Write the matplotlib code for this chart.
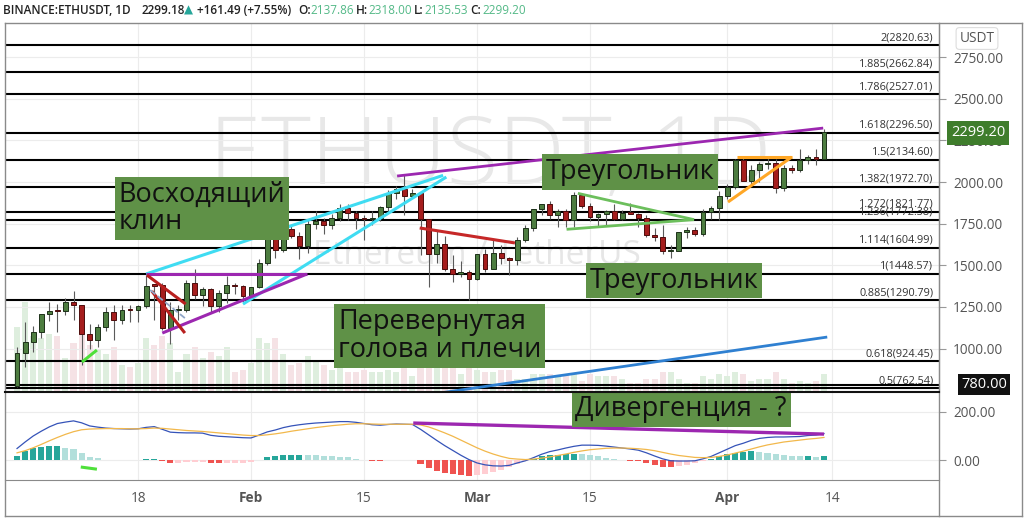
import matplotlib

matplotlib.use("Agg")
import matplotlib.pyplot as plt
import matplotlib.transforms as mtransforms
from matplotlib.lines import Line2D
import numpy as np

plt.rcParams["font.family"] = ["Open Sans", "DejaVu Sans"]

# ---- daily candles, ETHUSDT, Jan 3 .. Apr 13 (index 0..100) ----
opens = [774, 975, 1041, 1100, 1208, 1225, 1224, 1281, 1262, 1088,
         1049, 1130, 1219, 1171, 1233, 1230, 1257, 1385, 1382, 1121,
         1233, 1234, 1392, 1324, 1357, 1253, 1332, 1382, 1376, 1314,
         1369, 1515, 1660, 1594, 1719, 1678, 1613, 1748, 1767, 1744,
         1784, 1843, 1813, 1781, 1779, 1781, 1849, 1937, 1959, 1919,
         1935, 1777, 1570, 1626, 1475, 1446, 1459, 1416, 1565, 1475,
         1575, 1541, 1532, 1654, 1724, 1835, 1869, 1799, 1827, 1770,
         1924, 1854, 1791, 1806, 1823, 1780, 1812, 1810, 1782, 1681,
         1669, 1583, 1587, 1701, 1713, 1689, 1817, 1846, 1919, 1969,
         2134, 2008, 2075, 2107, 2113, 1964, 2083, 2072, 2135, 2152, 2138]
highs = [1011, 1162, 1134, 1210, 1282, 1265, 1301, 1347, 1263, 1150,
         1148, 1247, 1260, 1260, 1264, 1260, 1440, 1390, 1395, 1278,
         1260, 1410, 1477, 1372, 1362, 1350, 1433, 1396, 1380, 1372,
         1540, 1673, 1696, 1734, 1738, 1697, 1772, 1823, 1786, 1807,
         1870, 1871, 1826, 1799, 1827, 1859, 1950, 1974, 2041, 1960,
         1937, 1777, 1710, 1673, 1559, 1525, 1469, 1567, 1595, 1650,
         1623, 1548, 1671, 1740, 1838, 1870, 1885, 1840, 1840, 1943,
         1934, 1875, 1812, 1832, 1869, 1830, 1875, 1813, 1800, 1725,
         1740, 1624, 1702, 1732, 1728, 1838, 1857, 1945, 1990, 2141,
         2145, 2100, 2120, 2150, 2137, 2100, 2100, 2200, 2160, 2200, 2318]
lows = [768, 890, 977, 1064, 1168, 1101, 1201, 1172, 900, 1000,
        1008, 1103, 1050, 1150, 1160, 1161, 1243, 1170, 1110, 1030,
        1172, 1220, 1300, 1255, 1217, 1220, 1271, 1330, 1280, 1296,
        1361, 1500, 1543, 1582, 1666, 1535, 1571, 1718, 1690, 1716,
        1765, 1774, 1720, 1652, 1740, 1765, 1825, 1897, 1800, 1911,
        1560, 1371, 1511, 1465, 1400, 1431, 1293, 1409, 1460, 1475,
        1509, 1440, 1502, 1640, 1706, 1800, 1780, 1727, 1732, 1730,
        1843, 1764, 1732, 1738, 1774, 1770, 1805, 1727, 1670, 1648,
        1570, 1546, 1584, 1666, 1673, 1678, 1779, 1774, 1900, 1957,
        2010, 1990, 2000, 2080, 1932, 1949, 2055, 2060, 2111, 2100, 2136]
closes = [975, 1041, 1100, 1208, 1225, 1224, 1281, 1262, 1088, 1049,
          1130, 1219, 1171, 1233, 1230, 1257, 1377, 1377, 1121, 1233,
          1234, 1392, 1324, 1357, 1253, 1332, 1382, 1376, 1314, 1369,
          1515, 1660, 1594, 1719, 1678, 1613, 1748, 1767, 1744, 1784,
          1843, 1813, 1781, 1779, 1781, 1849, 1937, 1959, 1919, 1935,
          1777, 1570, 1626, 1475, 1446, 1459, 1416, 1565, 1475, 1575,
          1541, 1532, 1654, 1724, 1835, 1869, 1799, 1827, 1770, 1924,
          1854, 1791, 1806, 1823, 1780, 1812, 1810, 1782, 1681, 1669,
          1583, 1587, 1701, 1713, 1689, 1817, 1846, 1919, 1969, 2134,
          2008, 2075, 2107, 2113, 1964, 2083, 2072, 2135, 2152, 2138, 2299]
volumes = [2.9, 4.0, 2.5, 2.4, 2.6, 2.5, 1.5, 2.2, 3.5, 2.1,
           1.9, 1.7, 2.0, 1.2, 1.1, 1.3, 2.4, 2.1, 2.5, 2.2,
           0.9, 1.7, 2.0, 1.5, 1.8, 1.6, 2.0, 0.9, 1.0, 1.3,
           2.4, 2.2, 2.4, 1.7, 1.2, 1.3, 1.6, 1.4, 1.2, 1.0,
           1.2, 0.9, 0.9, 1.0, 0.9, 0.9, 1.0, 0.9, 1.3, 0.7,
           2.2, 2.7, 1.6, 1.2, 1.3, 0.8, 1.1, 1.0, 0.9, 0.9,
           1.0, 1.0, 0.6, 0.6, 0.8, 0.8, 0.8, 0.7, 0.8, 0.8,
           0.5, 0.8, 0.7, 0.7, 0.7, 0.6, 0.4, 0.4, 0.6, 0.6,
           0.9, 0.9, 0.6, 0.4, 0.4, 0.7, 0.6, 0.8, 0.7, 0.9,
           0.8, 0.5, 0.6, 0.6, 0.9, 0.6, 0.4, 0.5, 0.4, 0.5, 0.8]

# ---- MACD panel ----
macd = [48, 75, 100, 120, 138, 152, 158, 163, 155, 142,
        137, 133, 131, 130, 129, 130, 136, 139, 128, 116,
        114, 113, 113, 112, 103, 99, 97, 95, 93, 92,
        104, 117, 125, 135, 142, 147, 151, 154, 156, 158,
        160, 160, 157, 152, 147, 145, 148, 150, 149, 148,
        128, 105, 82, 60, 40, 20, 2, -12, -20, -24,
        -25, -22, -12, -3, 10, 24, 35, 42, 50, 57,
        62, 62, 61, 58, 54, 50, 46, 41, 30, 17,
        5, -3, -4, -4, -3, 5, 15, 30, 45, 60,
        70, 82, 90, 94, 96, 96, 97, 98, 102, 104, 110]
signal = [30, 39, 51, 65, 80, 94, 107, 118, 126, 129,
          130, 131, 131, 131, 130, 130, 131, 133, 132, 129,
          126, 123, 121, 119, 116, 113, 110, 107, 104, 102,
          102, 105, 109, 114, 120, 125, 130, 135, 139, 143,
          146, 149, 151, 151, 150, 149, 149, 149, 149, 149,
          146, 138, 126, 113, 99, 83, 67, 51, 37, 25,
          15, 7, 4, 2, 4, 8, 13, 19, 25, 32,
          38, 43, 46, 49, 50, 50, 49, 47, 44, 39,
          32, 25, 19, 15, 11, 10, 11, 15, 21, 29,
          37, 46, 55, 63, 69, 75, 79, 83, 87, 90, 94]

tick_pos = [15, 29, 43, 57, 71, 88, 101]
tick_labels = ["18", "Feb", "15", "Mar", "15", "Apr", "14"]
price_ticks = [1000, 1250, 1500, 1750, 2000, 2250, 2500, 2750]
macd_ticks = [0, 200]

fib_levels = [2820.63, 2662.84, 2527.01, 2296.50, 2134.60, 1972.70, 1821.77,
              1772.38, 1604.99, 1448.57, 1290.79, 924.45, 762.54]
fib_ratios = ["2", "1.885", "1.786", "1.618", "1.5", "1.382", "1.272",
              "1.236", "1.114", "1", "0.885", "0.618", "0.5"]
extra_levels = [780.0]

# drawn trend lines: (x0, y0), (x1, y1) in (day index, price)
wedge_upper = [(16.0, 1448), (52.8, 2040)]
wedge_lower = [(28.0, 1267), (53.2, 2030)]
flag_top = [(16.0, 1448), (35.9, 1448)]
flag_diag = [(18.0, 1093), (35.9, 1447)]
red_chan1 = [(16.1, 1441), (20.9, 1267)]
red_chan2 = [(16.7, 1345), (20.8, 1093)]
dash_mid = [(16.5, 1351), (20.8, 1183)]
green_tick = [(8.05, 919), (9.9, 991)]
top_trend = [(47.1, 2036), (99.9, 2324)]
neckline = [(49.9, 1724), (61.7, 1634)]
tri_upper = [(69.5, 1932), (83.9, 1774)]
tri_lower = [(68.1, 1716), (83.9, 1774)]
orange_top = [(89.2, 2150), (96.0, 2150)]
orange_diag = [(88.1, 1880), (96.0, 2150)]
blue_trend = [(52.4, 733), (100.4, 1069)]
macd_div = [(49.1, 154), (100.0, 108)]
macd_tick = [(7.9, -29), (9.9, -38)]

# text boxes: text, x (day index), y (price or macd)
main_labels = [
    ("Восходящий\nклин", 22.9, 1841),
    ("Треугольник", 76.0, 2060),
    ("Треугольник", 81.4, 1408),
    ("Перевернутая\nголова и плечи", 52.4, 1075),
]
macd_labels = [("Дивергенция - ?", 82.3, 213)]

W, H = 1024, 520
fig = plt.figure(figsize=(W / 100, H / 100), dpi=100)


def rect(x0, y0, x1, y1):
    return [x0 / W, 1 - y1 / H, (x1 - x0) / W, (y1 - y0) / H]


def fig_line(x0, y0, x1, y1, color="#8a8a8a", lw=1.0):
    fig.add_artist(Line2D([x0 / W, x1 / W], [1 - y0 / H, 1 - y1 / H],
                          transform=fig.transFigure, color=color, lw=lw))


GRID = "#ececec"
TXT = "#555555"
axv = fig.add_axes(rect(5, 23, 939, 392))
ax = fig.add_axes(rect(5, 23, 939, 392), sharex=axv)
axm = fig.add_axes(rect(5, 393, 939, 480), sharex=axv)
ax.patch.set_visible(False)

idx = np.arange(len(opens))
o, h, l, c = (np.array(v, float) for v in (opens, highs, lows, closes))
up = c >= o
vol = np.array(volumes)

# volume in the background
axv.bar(idx, vol, width=0.75, color=np.where(up, "#deeede", "#f5e2e5"), zorder=1)
axv.set_ylim(0, 16.4)
axv.set_yticks([])
axv.tick_params(bottom=False, labelbottom=False)
for s in axv.spines.values():
    s.set_visible(False)
axv.set_xticks(tick_pos)
axv.grid(axis="x", color=GRID, lw=0.8)
axv.set_axisbelow(True)

ax.set_xlim(-1.49, 114.25)
ax.set_ylim(739, 2955)

# watermark
ax.text(0.52, 0.63, "ETHUSDT, 1D", transform=ax.transAxes, ha="center", va="center",
        fontsize=68, color="#e8e8e8", fontweight="light", zorder=0)
ax.text(0.505, 0.37, "Ethereum / TetherUS", transform=ax.transAxes, ha="center",
        va="center", fontsize=24, color="#e6e6e6", zorder=0)

# fib levels
lbl_tr = mtransforms.blended_transform_factory(ax.transAxes, ax.transData)
for lev, r in zip(fib_levels, fib_ratios):
    ax.axhline(lev, color="black", lw=1.5, zorder=2)
    ax.text(0.994, lev + 12, f"{r}({lev:.2f})", transform=lbl_tr, ha="right",
            va="bottom", fontsize=7.8, color="#333333", zorder=2)
for lev in extra_levels:
    ax.axhline(lev, color="black", lw=1.5, zorder=2)

# candles
body_lo = np.minimum(o, c)
body_h = np.maximum(np.abs(c - o), 7)
ax.vlines(idx, l, h, color="#5a5a5a", lw=0.8, zorder=3)
ax.bar(idx[up], body_h[up], bottom=body_lo[up], width=0.6, color="#4d7d40",
       edgecolor="#1d3119", lw=0.7, zorder=4)
ax.bar(idx[~up], body_h[~up], bottom=body_lo[~up], width=0.6, color="#a51d1d",
       edgecolor="#4d0c0c", lw=0.7, zorder=4)


def seg(a, pts, color, lw, ls="-"):
    (x0, y0), (x1, y1) = pts
    a.plot([x0, x1], [y0, y1], color=color, lw=lw, ls=ls, zorder=5,
           solid_capstyle="butt")


seg(ax, wedge_upper, "#3fdcf2", 2.2)
seg(ax, wedge_lower, "#3fdcf2", 2.2)
seg(ax, flag_top, "#9c27b0", 2.2)
seg(ax, flag_diag, "#9c27b0", 2.2)
seg(ax, red_chan1, "#b8201f", 2.2)
seg(ax, red_chan2, "#b8201f", 2.2)
seg(ax, dash_mid, "#8fa6c8", 1.3, "--")
seg(ax, green_tick, "#4fe03a", 2.2)
seg(ax, top_trend, "#9c27b0", 2.0)
seg(ax, neckline, "#c62828", 2.2)
seg(ax, tri_upper, "#6cbf5c", 2.0)
seg(ax, tri_lower, "#6cbf5c", 2.0)
seg(ax, orange_top, "#ffa726", 2.2)
seg(ax, orange_diag, "#ffa726", 2.2)
seg(ax, blue_trend, "#2f80d1", 2.0)

BOX = dict(boxstyle="square,pad=0.14", fc="#5f9147", ec="none")
for text, x, y in main_labels:
    ax.text(x, y, text, ha="center", va="center", multialignment="left",
            fontsize=19.5, color="#111111", bbox=BOX, zorder=6, linespacing=1.0)

ax.yaxis.tick_right()
ax.set_yticks(price_ticks)
ax.set_yticklabels([f"{v:.2f}" for v in price_ticks])
ax.tick_params(axis="y", length=5, pad=5, labelsize=9.8, colors=TXT, color="#999999")
ax.tick_params(axis="x", length=0, labelbottom=False)
ax.grid(axis="y", color=GRID, lw=0.8)
for s in ("left", "top", "bottom"):
    ax.spines[s].set_visible(False)
ax.spines["right"].set_color("#8a8a8a")

# MACD
m = np.array(macd, float)
sg = np.array(signal, float)
hist = m - sg
prev = np.concatenate([[0.0], hist[:-1]])
hcol = np.where(hist >= 0, np.where(hist >= prev, "#26a69a", "#b2dfdb"),
                np.where(hist <= prev, "#ef5350", "#ffcdd2"))
axm.bar(idx, hist, width=0.75, color=hcol, zorder=2)
axm.plot(idx, m, color="#3553b8", lw=0.9, zorder=3)
axm.plot(idx, sg, color="#f2b84b", lw=0.9, zorder=3)
seg(axm, macd_div, "#9c27b0", 2.4)
seg(axm, macd_tick, "#4fe03a", 2.2)
for text, x, y in macd_labels:
    axm.text(x, y, text, ha="center", va="center", fontsize=19.5, color="#111111",
             bbox=BOX, zorder=6)
axm.set_ylim(-83, 279)
axm.yaxis.tick_right()
axm.set_yticks(macd_ticks)
axm.set_yticklabels([f"{v:.2f}" for v in macd_ticks])
axm.tick_params(axis="y", length=5, pad=5, labelsize=9.8, colors=TXT, color="#999999")
axm.set_xticks(tick_pos)
axm.set_xticklabels(tick_labels)
for lab in axm.get_xticklabels():
    if not lab.get_text().isdigit():
        lab.set_fontweight("bold")
axm.tick_params(axis="x", length=0, pad=8, labelsize=9.8, colors=TXT)
axm.grid(color=GRID, lw=0.8)
axm.set_axisbelow(True)
for s in ("left", "top", "right"):
    axm.spines[s].set_visible(False)
axm.spines["bottom"].set_color("#8a8a8a")

# frame
fig_line(5, 23, 1022, 23)
fig_line(5, 23, 5, 516)
fig_line(5, 516, 1022, 516)
fig_line(1022, 23, 1022, 516)
fig_line(939, 23, 939, 516)
fig_line(5, 392, 939, 392, color="#111111", lw=1.5)

# right scale badges
fig.text(977 / W, 1 - 38.5 / H, "USDT", ha="center", va="center", fontsize=9.8, color=TXT,
         bbox=dict(boxstyle="round,pad=0.25", fc="white", ec="#dddddd", lw=0.8))
fig.text(978 / W, 1 - 133 / H, f"{closes[-1] + 0.2:.2f}", ha="center", va="center",
         fontsize=10.5, color="white",
         bbox=dict(boxstyle="square,pad=0.28", fc="#3f7d2c", ec="none"))
fig.text(984 / W, 1 - 384.5 / H, f"{extra_levels[0]:.2f}", ha="center", va="center",
         fontsize=10.5, color="white",
         bbox=dict(boxstyle="square,pad=0.2", fc="#111111", ec="none"))

# header
hdr = [(3, "BINANCE:ETHUSDT, 1D", "#222222"), (141, "2299.18", "#222222"),
       (184, "▲", "#26a69a"), (197, "+161.49 (+7.55%)", "#222222"),
       (298, "O:", "#222222"), (310, "2137.86", "#53b987"), (356, "H:", "#222222"),
       (368, "2318.00", "#53b987"), (414, "L:", "#222222"), (424, "2135.53", "#53b987"),
       (470, "C:", "#222222"), (482, "2299.20", "#53b987")]
for x, t, col in hdr:
    fig.text(x / W, 1 - 10 / H, t, ha="left", va="center", fontsize=8.5, color=col,
             fontweight="semibold" if col == "#222222" else "normal")

fig.savefig("out.png", dpi=100)
